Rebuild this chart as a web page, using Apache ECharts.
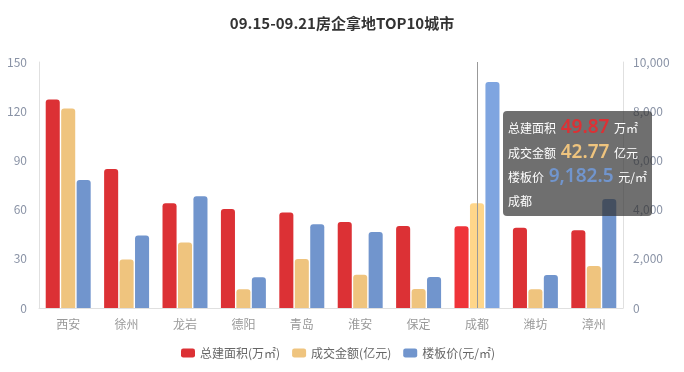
<!DOCTYPE html>
<html><head><meta charset="utf-8">
<script src="https://cdn.jsdelivr.net/npm/echarts@6/dist/echarts.min.js"></script>
<style>html,body{margin:0;padding:0;background:#fff}#c{width:684px;height:372px}</style>
</head><body><div id="c"></div>
<script>
const categories = ['西安','徐州','龙岩','德阳','青岛','淮安','保定','成都','潍坊','漳州'];
const area = [127.2, 84.8, 63.8, 60.4, 58.3, 52.4, 50.0, 49.87, 49.0, 47.4];
const amount = [121.7, 29.5, 40.0, 11.4, 29.9, 20.3, 11.6, 63.8, 11.4, 25.6];
const price = [5200, 2950, 4540, 1250, 3400, 3090, 1260, 9182.5, 1340, 4430];
const tipArea = '49.87', tipAmount = '42.77', tipPrice = '9,182.5', tipCity = '成都';
const leftTicks = {min:0, max:150, interval:30};
const rightTicks = {min:0, max:10000, interval:2000};
const names = ['总建面积(万㎡)','成交金额(亿元)','楼板价(元/㎡)'];
const colors = ['#dc3135','#efc47e','#7195cd'];
const emColors = ['#ef3339','#ffd68a','#7fa5e0'];
const font = '"Noto Sans CJK SC","Noto Sans",sans-serif';

const chart = echarts.init(document.getElementById('c'));
function mk(i, data, yIdx){
  return {name:names[i], type:'bar', yAxisIndex:yIdx, data:data,
    itemStyle:{color:colors[i], borderRadius:[3,3,0,0]},
    emphasis:{focus:'none', itemStyle:{color:emColors[i]}}};
}
chart.setOption({
  animation:false,
  textStyle:{fontFamily:font},
  title:{text:'09.15-09.21房企拿地TOP10城市', left:'center', top:11,
    textStyle:{fontSize:15, fontWeight:'bold', color:'#333', fontFamily:font}},
  legend:{bottom:8, left:176, itemWidth:14, itemHeight:9, itemGap:12, icon:'roundRect',
    textStyle:{color:'#666', fontSize:12, fontFamily:font}},
  grid:{left:39, right:61, top:62, bottom:64},
  tooltip:{trigger:'axis', axisPointer:{type:'line', lineStyle:{color:'#999', width:1, type:'solid'}},
    backgroundColor:'rgba(50,50,50,0.7)', borderWidth:0, padding:[4,5,4,5],
    extraCssText:'box-shadow:none;border-radius:4px;',
    position:function(){return [503,111];},
    formatter:function(){
      const l='font-size:12px;color:#fff;';
      const v="font-size:19px;font-weight:600;line-height:23px;padding:0 2px;font-family:'Noto Sans',sans-serif;";
      return '<div style="line-height:23.5px;'+l+'">'+
        '<div>总建面积 <span style="'+v+'color:'+colors[0]+'">'+tipArea+'</span> 万㎡</div>'+
        '<div>成交金额 <span style="'+v+'color:'+colors[1]+'">'+tipAmount+'</span> 亿元</div>'+
        '<div>楼板价 <span style="'+v+'color:'+colors[2]+'">'+tipPrice+'</span> 元/㎡</div>'+
        '<div>'+tipCity+'</div></div>';
    }},
  xAxis:{type:'category', data:categories,
    axisLine:{lineStyle:{color:'#e0e0e0'}},
    axisTick:{alignWithLabel:true, lineStyle:{color:'#e0e0e0'}},
    axisLabel:{color:'#999', fontSize:12, margin:10}},
  yAxis:[
    {type:'value', min:leftTicks.min, max:leftTicks.max, interval:leftTicks.interval,
      axisLine:{show:true, lineStyle:{color:'#e0e0e0'}}, axisTick:{show:false},
      splitLine:{show:false}, axisLabel:{color:'#8a93a6', fontSize:12, margin:12}},
    {type:'value', min:rightTicks.min, max:rightTicks.max, interval:rightTicks.interval,
      axisLine:{show:true, lineStyle:{color:'#e0e0e0'}}, axisTick:{show:false},
      splitLine:{show:false}, axisLabel:{color:'#8a93a6', fontSize:12, margin:10}}
  ],
  series:[mk(0, area, 0), mk(1, amount, 0), mk(2, price, 1)]
});
setTimeout(function(){
  chart.dispatchAction({type:'highlight', seriesIndex:[0,1,2], dataIndex:7});
  chart.dispatchAction({type:'showTip', seriesIndex:0, dataIndex:7});
},50);
</script></body></html>
